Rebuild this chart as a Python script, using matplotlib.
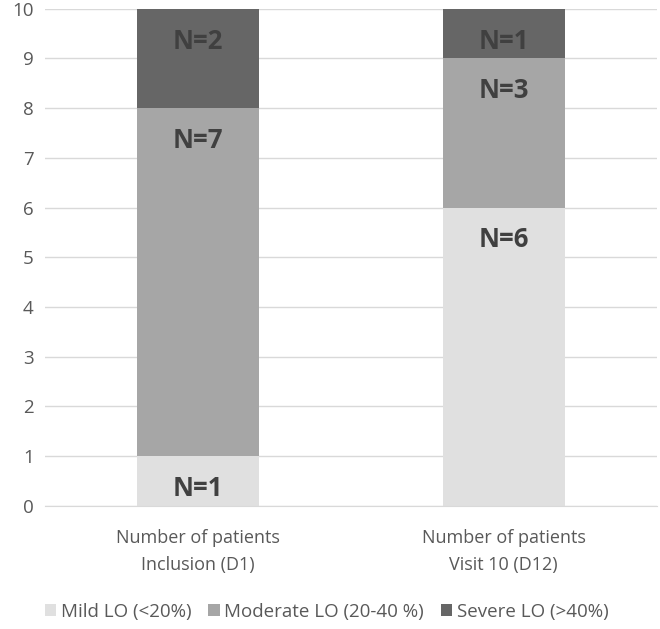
import matplotlib.pyplot as plt
import numpy as np

categories = ["Number of patients\nInclusion (D1)", "Number of patients\nVisit 10 (D12)"]
series_names = ["Mild LO (<20%)", "Moderate LO (20-40 %)", "Severe LO (>40%)"]
mild = [1, 6]
moderate = [7, 3]
severe = [2, 1]
colors = ["#e0e0e0", "#a6a6a6", "#666666"]

plt.rcParams['font.family'] = ['Open Sans', 'DejaVu Sans']

fig = plt.figure(figsize=(6.6, 6.29), dpi=100)
ax = fig.add_axes([0.068, 0.196, 0.927, 0.79])

x = np.arange(len(categories))
bottom = np.zeros(len(categories))
for name, vals, col in zip(series_names, [mild, moderate, severe], colors):
    ax.bar(x, vals, width=0.4, bottom=bottom, color=col, label=name, zorder=2)
    for xi, b, v in zip(x, bottom, vals):
        # labels sit near the top of each segment
        ax.text(xi, b + v - 0.65, f"N={v}", ha='center', va='center',
                fontsize=18.5, fontweight='bold', color='#404040', zorder=3)
    bottom += np.array(vals)

ax.set_ylim(0, 10)
ax.set_xlim(-0.5, 1.5)
ax.set_yticks(range(0, 11))
ax.yaxis.grid(True, color='#d9d9d9', linewidth=1, zorder=0)
ax.set_xticks(x)
ax.set_xticklabels(categories, fontsize=13, color='#595959', linespacing=1.65)
ax.tick_params(axis='y', labelsize=13.5, labelcolor='#595959', length=0, pad=8)
ax.tick_params(axis='x', length=0, pad=17)
for s in ['top', 'right', 'left']:
    ax.spines[s].set_visible(False)
ax.spines['bottom'].set_color('#d9d9d9')

fig.legend(loc='lower center', bbox_to_anchor=(0.495, -0.014), ncol=3, frameon=False,
           fontsize=13.5, handlelength=0.6, handleheight=0.6, handletextpad=0.25,
           columnspacing=0.9, labelcolor='#595959')

fig.savefig("out.png", dpi=100)
